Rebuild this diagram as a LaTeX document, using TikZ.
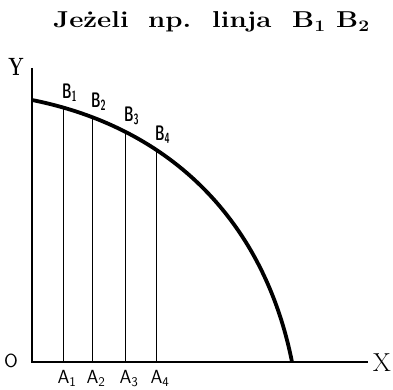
\documentclass[tikz,border=0pt]{standalone}
\usepackage{fontspec}
\tikzset{
  axis/.style={line width=1.4pt},
  curve/.style={line width=3.8pt},
  ord/.style={line width=.7pt},
  heading/.style={font=\bfseries\fontsize{23}{23}\selectfont,xscale=1.2,inner sep=0pt,anchor=base west},
  axlab/.style={font=\fontsize{26}{26}\selectfont,inner sep=0pt},
  blab/.style={font=\sffamily\bfseries\fontsize{21}{21}\selectfont,inner sep=0pt,xscale=.62},
  alab/.style={font=\sffamily\fontsize{19}{19}\selectfont,inner sep=0pt}
}
\begin{document}
\begin{tikzpicture}[x=1pt,y=-1pt]
\useasboundingbox (0,0) rectangle (393,390);
% heading
\node[heading] (w1) at (53,28) {Jeżeli};
\node[heading] (w2) at (148,28) {np.};
\node[heading] (w3) at (212,28) {linja};
\node[heading] (w4) at (292,28) {B\textsubscript{1}};
\node[heading] (w5) at (336,28) {B\textsubscript{2}};
% axes
\coordinate (O) at (32,362);\coordinate (Ytop) at (32,68);\coordinate (Xend) at (368,362);
\draw[axis] (Ytop) -- (O) -- (Xend);
\node[axlab,font=\bfseries\fontsize{25}{25}\selectfont,xscale=.72] (ylab) at (16,67) {Y};
\node[axlab] (xlab) at (382,363) {X};
\node[alab,xscale=1.05] (olab) at (11,361) {O};
% curve and ordinates
\coordinate (C0) at (32,100);\coordinate (C1) at (292,362);
\draw[curve] (C0) .. controls (172,128) and (264,222) .. (C1);
\coordinate (B1) at (63,107.6);\coordinate (B2) at (92,117);\coordinate (B3) at (125,131.5);\coordinate (B4) at (156,149.6);
\foreach \i/\x in {1/63,2/92,3/125,4/156} \coordinate (A\i) at (\x,362);
\foreach \i in {1,...,4} \draw[ord] (A\i) -- (B\i);
\foreach \i in {1,...,4} {
  \node[blab,anchor=south west] (lb\i) at ([xshift=-1pt,yshift=6pt]B\i) {B\textsubscript{\i}};
  \node[alab,anchor=north] (la\i) at ([xshift=4pt,yshift=-8pt]A\i) {A\textsubscript{\i}};
}
\end{tikzpicture}
\end{document}
